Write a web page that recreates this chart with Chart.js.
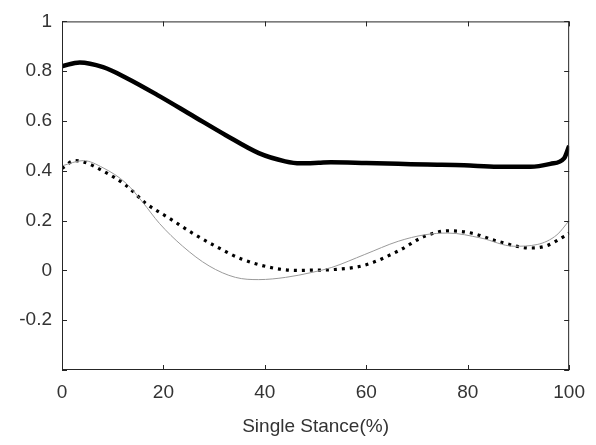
<!DOCTYPE html>
<html>
<head>
<meta charset="utf-8">
<script src="https://cdn.jsdelivr.net/npm/chart.js@4/dist/chart.umd.min.js"></script>
<style>
html,body{margin:0;padding:0;background:#fff;}
#wrap{width:596px;height:445px;}
</style>
</head>
<body>
<div id="wrap"><canvas id="c" width="596" height="445"></canvas></div>
<script>
// Data
const thickX = [0, 3.5, 8.1, 12.7, 19.2, 25.7, 32.3, 38.8, 44, 47, 50.6, 53, 60, 66.3, 72, 79.3, 85.9, 92.4, 96.3, 99, 100];
const thickY = [0.82, 0.835, 0.816, 0.773, 0.70, 0.622, 0.543, 0.471, 0.438, 0.43, 0.432, 0.434, 0.431, 0.428, 0.425, 0.422, 0.416, 0.416, 0.428, 0.45, 0.50];

const dotX = [0, 2.5, 4.2, 8.1, 12.7, 16.6, 21.2, 25.7, 30.3, 35.5, 42.1, 46.7, 49.3, 53.2, 59.7, 66.3, 71.5, 76.1, 80.7, 85.9, 92.4, 95.7, 99, 100];
const dotY = [0.41, 0.441, 0.436, 0.399, 0.34, 0.268, 0.209, 0.15, 0.097, 0.045, 0.008, 0.0, 0.001, 0.003, 0.021, 0.078, 0.137, 0.159, 0.15, 0.117, 0.09, 0.10, 0.137, 0.15];

const thinX = [0, 4.2, 8.1, 12.7, 15.9, 19.2, 23.8, 29, 34.2, 38.8, 44.1, 49.3, 53.2, 59.7, 66.3, 71.5, 76.1, 82.6, 89.1, 93.7, 97.6, 100];
const thinY = [0.42, 0.441, 0.412, 0.349, 0.274, 0.189, 0.097, 0.018, -0.028, -0.037, -0.028, -0.008, 0.012, 0.064, 0.117, 0.143, 0.15, 0.13, 0.097, 0.104, 0.143, 0.2];

const xTicks = [0, 20, 40, 60, 80, 100];
const yTicks = [-0.4, -0.2, 0, 0.2, 0.4, 0.6, 0.8, 1];
const xTitle = 'Single Stance(%)';

const pts = (xs, ys) => xs.map((x, i) => ({x: x, y: ys[i]}));
const axisColor = '#333333';
const fontFam = '"Liberation Sans", Arial, sans-serif';

const boxPlugin = {
  id: 'box',
  afterDatasetsDraw(chart) {
    const {ctx, chartArea: a, scales} = chart;
    ctx.save();
    ctx.strokeStyle = '#262626';
    ctx.lineWidth = 1;
    ctx.strokeRect(a.left + 0.5, a.top + 0.5, a.right - a.left - 1, a.bottom - a.top - 1);
    const L = 5;
    ctx.beginPath();
    xTicks.forEach(v => {
      const px = Math.round(scales.x.getPixelForValue(v)) + 0.5;
      ctx.moveTo(px, a.bottom); ctx.lineTo(px, a.bottom - L);
      ctx.moveTo(px, a.top); ctx.lineTo(px, a.top + L);
    });
    yTicks.forEach(v => {
      const py = Math.round(scales.y.getPixelForValue(v)) + 0.5;
      ctx.moveTo(a.left, py); ctx.lineTo(a.left + L, py);
      ctx.moveTo(a.right, py); ctx.lineTo(a.right - L, py);
    });
    ctx.stroke();
    ctx.restore();
  }
};

new Chart(document.getElementById('c'), {
  type: 'line',
  data: {
    datasets: [
      {
        data: pts(thinX, thinY),
        borderColor: '#9a9a9a',
        borderWidth: 1,
        pointRadius: 0,
        tension: 0.4,
        cubicInterpolationMode: 'monotone',
        fill: false
      },
      {
        data: pts(dotX, dotY),
        borderColor: '#000',
        borderWidth: 3.2,
        borderDash: [3, 5],
        borderCapStyle: 'butt',
        pointRadius: 0,
        tension: 0.4,
        cubicInterpolationMode: 'monotone',
        fill: false
      },
      {
        data: pts(thickX, thickY),
        borderColor: '#000',
        borderWidth: 4.5,
        pointRadius: 0,
        tension: 0.4,
        cubicInterpolationMode: 'monotone',
        fill: false
      }
    ]
  },
  options: {
    responsive: false,
    animation: false,
    devicePixelRatio: 1,
    layout: {padding: {top: 15, right: 24, left: 0, bottom: 0}},
    plugins: {legend: {display: false}, tooltip: {enabled: false}},
    scales: {
      x: {
        type: 'linear',
        min: 0, max: 100,
        afterBuildTicks: s => { s.ticks = xTicks.map(v => ({value: v})); },
        afterFit: s => { s.height = 75; },
        grid: {display: false, drawTicks: false},
        border: {display: false},
        ticks: {color: axisColor, font: {family: fontFam, size: 19}, padding: 11, maxRotation: 0},
        title: {display: true, text: xTitle, color: axisColor, font: {family: fontFam, size: 19}, padding: {top: 4, bottom: 7}}
      },
      y: {
        type: 'linear',
        min: -0.4, max: 1,
        afterBuildTicks: s => { s.ticks = yTicks.map(v => ({value: v})); },
        afterFit: s => { s.width = 62; },
        grid: {display: false, drawTicks: false},
        border: {display: false},
        ticks: {
          color: axisColor, font: {family: fontFam, size: 19}, padding: 10,
          callback: v => (Math.abs(v + 0.4) < 1e-9 ? '' : String(Math.round(v * 10) / 10))
        }
      }
    }
  },
  plugins: [boxPlugin]
});
</script>
</body>
</html>
